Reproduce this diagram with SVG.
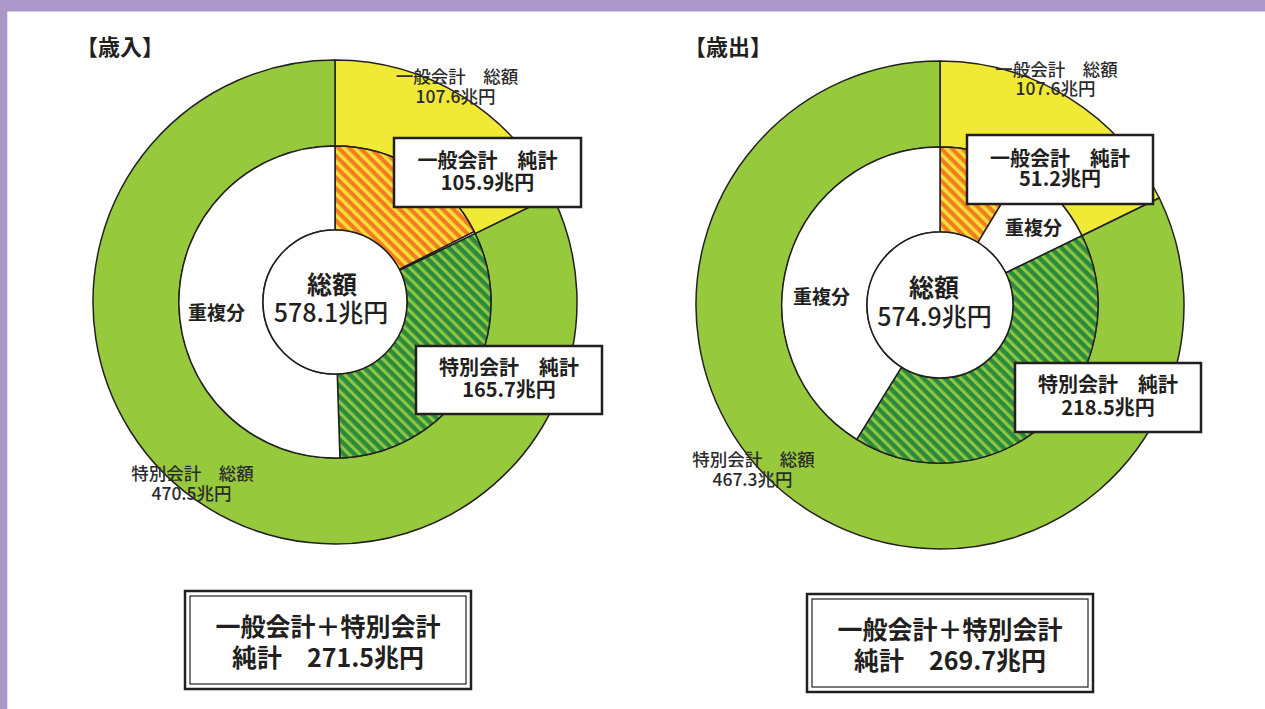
<svg xmlns="http://www.w3.org/2000/svg" width="1265" height="709" viewBox="0 0 1265 709">
<style>
.seg{stroke:#231F20;stroke-width:1.5;stroke-linejoin:round}
.yel{fill:#F0E936}
.grn{fill:#97C93D}
.wht{fill:#FFFFFF}
.box{fill:#FFFFFF;stroke:#231F20;stroke-width:2.5}
.t{font-family:"Noto Sans CJK JP","Noto Sans",sans-serif;fill:#231F20;text-anchor:middle}
.b{font-weight:bold}
.lbl{font-size:17.5px;fill:#2b2b2b;font-weight:500}
.bx{font-size:20px;font-weight:bold}
.ctr{font-size:25px}
.dup{font-size:19px;font-weight:bold}
.tot{font-size:25px;font-weight:bold}
.ttl{font-size:22px;font-weight:bold}
</style>
<defs>
<pattern id="hOrange" width="7.6" height="7.6" patternUnits="userSpaceOnUse" patternTransform="rotate(-45)">
<rect width="7.6" height="7.6" fill="#F47B20"/>
<rect width="3.5" height="7.6" fill="#F3DF3A"/>
</pattern>
<pattern id="hGreen" width="7.6" height="7.6" patternUnits="userSpaceOnUse" patternTransform="rotate(-45)">
<rect width="7.6" height="7.6" fill="#2B8A3E"/>
<rect width="3.2" height="7.6" fill="#8DC63F"/>
</pattern>
</defs>
<rect x="0" y="0" width="1265" height="709" fill="#FFFFFF"/>
<rect x="0" y="0" width="1265" height="11.5" fill="#AC97C9"/>
<rect x="0" y="0" width="7.3" height="709" fill="#AC97C9"/>

<g id="revenue-chart">
<g id="rev-general-total">
<path class="seg yel" d="M335,60 A242,242 0 0 1 552.51,195.91 L475.21,233.61 A156,156 0 0 0 335,146 Z"/>
</g>
<g id="rev-special-total">
<path class="seg grn" d="M552.51,195.91 A242,242 0 1 1 335,60 L335,146 A156,156 0 1 0 475.21,233.61 Z"/>
</g>
<g id="rev-general-net">
<path class="seg" fill="url(#hOrange)" d="M335,146 A156,156 0 0 1 474.24,231.66 L399.27,269.54 A72,72 0 0 0 335,230 Z"/>
</g>
<g id="rev-dup-small">
<path class="seg wht" stroke-width="1" d="M474.24,231.66 A156,156 0 0 1 475.21,233.61 L399.71,270.44 A72,72 0 0 0 399.27,269.54 Z"/>
</g>
<g id="rev-special-net">
<path class="seg" fill="url(#hGreen)" d="M475.21,233.61 A156,156 0 0 1 339.90,457.92 L337.26,373.96 A72,72 0 0 0 399.71,270.44 Z"/>
</g>
<g id="rev-dup">
<path class="seg wht" d="M339.90,457.92 A156,156 0 1 1 335,146 L335,230 A72,72 0 1 0 337.26,373.96 Z"/>
<text class="t dup" x="216.5" y="320">重複分</text>
</g>
<g id="rev-center">
<circle class="seg wht" cx="335" cy="302" r="72"/>
<text class="t ctr b" x="332" y="294">総額</text>
<text class="t ctr" x="331" y="322" font-weight="500">578.1兆円</text>
</g>
<g id="rev-labels">
<text class="t ttl" x="120" y="55">【歳入】</text>
<text class="t lbl" x="457" y="83">一般会計　総額</text>
<text class="t lbl" x="455.5" y="103">107.6兆円</text>
<text class="t lbl" x="192.5" y="479.5">特別会計　総額</text>
<text class="t lbl" x="191.5" y="499.5">470.5兆円</text>
</g>
<g id="rev-box-general">
<rect class="box" x="394" y="138" width="187" height="69"/>
<text class="t bx" x="487.5" y="168">一般会計　純計</text>
<text class="t bx" x="487.5" y="190">105.9兆円</text>
</g>
<g id="rev-box-special">
<rect class="box" x="416" y="346" width="186" height="68"/>
<text class="t bx" x="509" y="375">特別会計　純計</text>
<text class="t bx" x="509" y="397">165.7兆円</text>
</g>
<g id="rev-total">
<rect x="185" y="591" width="286" height="98" fill="#FFFFFF" stroke="#231F20" stroke-width="2.5"/>
<rect x="190" y="596" width="276" height="88" fill="none" stroke="#231F20" stroke-width="1.2"/>
<text class="t tot" x="328" y="636">一般会計＋特別会計</text>
<text class="t tot" x="328" y="667">純計　271.5兆円</text>
</g>
</g>

<g id="expenditure-chart">
<g id="exp-general-total">
<path class="seg yel" d="M940,61 A244,244 0 0 1 1159.30,198.04 L1082.01,235.74 A158,158 0 0 0 940,147 Z"/>
</g>
<g id="exp-special-total">
<path class="seg grn" d="M1159.30,198.04 A244,244 0 1 1 940,61 L940,147 A158,158 0 1 0 1082.01,235.74 Z"/>
</g>
<g id="exp-general-net">
<path class="seg" fill="url(#hOrange)" d="M940,147 A158,158 0 0 1 1021.85,169.85 L977.82,242.56 A73,73 0 0 0 940,232 Z"/>
</g>
<g id="exp-dup-small">
<path class="seg wht" d="M1021.85,169.85 A158,158 0 0 1 1082.01,235.74 L1005.61,273.00 A73,73 0 0 0 977.82,242.56 Z"/>
<text class="t dup" x="1033.5" y="235">重複分</text>
</g>
<g id="exp-special-net">
<path class="seg" fill="url(#hGreen)" d="M1082.01,235.74 A158,158 0 0 1 856.74,439.36 L901.53,367.08 A73,73 0 0 0 1005.61,273.00 Z"/>
</g>
<g id="exp-dup">
<path class="seg wht" d="M856.74,439.36 A158,158 0 0 1 940,147 L940,232 A73,73 0 0 0 901.53,367.08 Z"/>
<text class="t dup" x="821.5" y="303.5">重複分</text>
</g>
<g id="exp-center">
<circle class="seg wht" cx="940" cy="305" r="73"/>
<text class="t ctr b" x="934" y="297">総額</text>
<text class="t ctr" x="934.5" y="325.5" font-weight="500">574.9兆円</text>
</g>
<g id="exp-labels">
<text class="t ttl" x="728" y="55">【歳出】</text>
<text class="t lbl" x="1056.5" y="76">一般会計　総額</text>
<text class="t lbl" x="1055.5" y="94.5">107.6兆円</text>
<text class="t lbl" x="753.5" y="466">特別会計　総額</text>
<text class="t lbl" x="752.5" y="486">467.3兆円</text>
</g>
<g id="exp-box-general">
<rect class="box" x="967" y="135" width="186" height="69"/>
<text class="t bx" x="1060" y="165.5">一般会計　純計</text>
<text class="t bx" x="1060" y="186">51.2兆円</text>
</g>
<g id="exp-box-special">
<rect class="box" x="1015" y="363" width="186" height="69"/>
<text class="t bx" x="1108" y="392">特別会計　純計</text>
<text class="t bx" x="1108" y="414.5">218.5兆円</text>
</g>
<g id="exp-total">
<rect x="807" y="594" width="286" height="98" fill="#FFFFFF" stroke="#231F20" stroke-width="2.5"/>
<rect x="812" y="599" width="276" height="88" fill="none" stroke="#231F20" stroke-width="1.2"/>
<text class="t tot" x="950" y="639">一般会計＋特別会計</text>
<text class="t tot" x="950" y="670">純計　269.7兆円</text>
</g>
</g>
</svg>
